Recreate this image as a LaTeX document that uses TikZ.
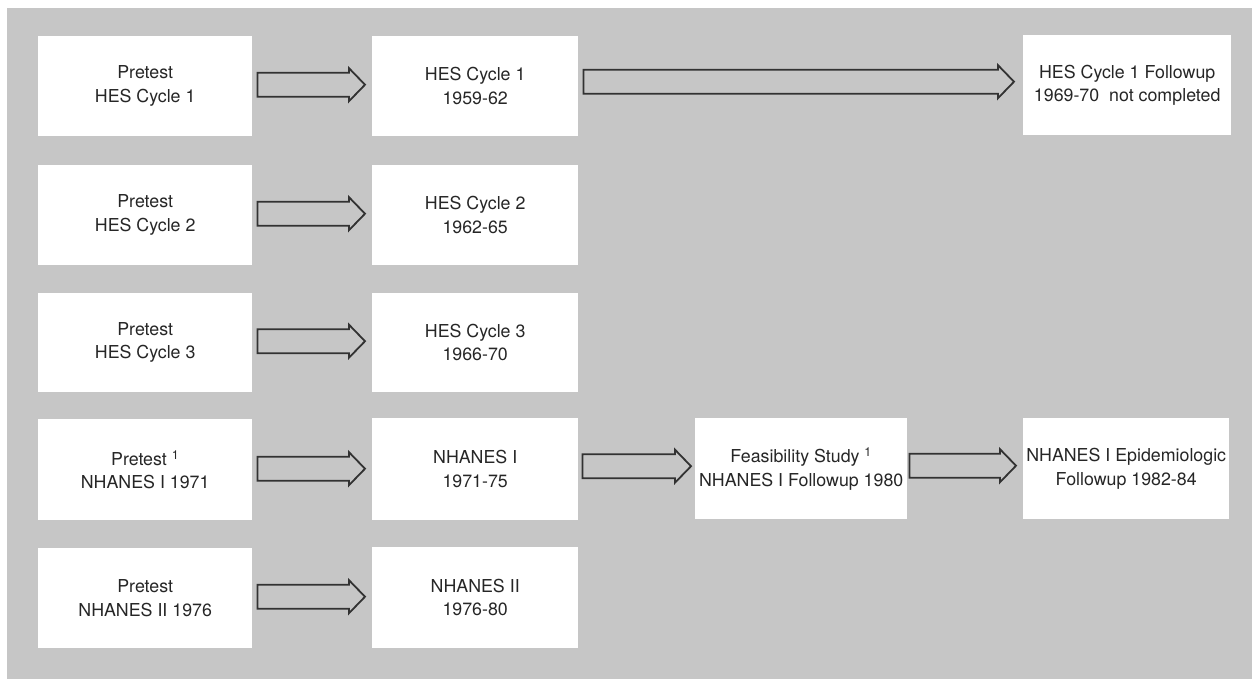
\documentclass[tikz,border=0pt]{standalone}
\usepackage{fontspec}
\setmainfont{TeX Gyre Heros}
\usetikzlibrary{calc}
\definecolor{bggray}{RGB}{198,198,198}
\definecolor{arrline}{RGB}{50,50,50}
\tikzset{
  box/.style={fill=white, anchor=north west, inner sep=0pt, align=center,
              font=\fontsize{17.8}{23.5}\selectfont, text=black!85},
  blkarr/.style={draw=arrline, fill=bggray, line width=1.8pt, line join=miter},
}
% #1 from node, #2 to node, #3 start gap, #4 end gap, #5 vertical lift
\newcommand\blkarrow[5]{%
  \draw[blkarr] let \p1=($(#1.east)+(#3,#5)$), \p2=($(#2.west)+(-#4,0)$) in
    (\x1,\y1+12pt) -- (\x2-16pt,\y1+12pt) -- (\x2-16pt,\y1+16.5pt) -- (\x2,\y1)
    -- (\x2-16pt,\y1-16.5pt) -- (\x2-16pt,\y1-12pt) -- (\x1,\y1-12pt) -- cycle;}
\begin{document}
\begin{tikzpicture}[x=1pt,y=-1pt]
\useasboundingbox (0,0) rectangle (1256,679);
\fill[white] (0,0) rectangle (1256,679);
\fill[bggray] (7,8) rectangle (1252,679);

\node[box, minimum width=214pt, minimum height=100pt] (a1) at (38,36) {Pretest\\HES Cycle 1};
\node[box, minimum width=214pt, minimum height=100pt] (a2) at (38,165) {Pretest\\HES Cycle 2};
\node[box, minimum width=214pt, minimum height=99pt] (a3) at (38,293) {Pretest\\HES Cycle 3};
\node[box, minimum width=214pt, minimum height=101pt] (a4) at (38,419) {Pretest \textsuperscript{1}\\NHANES I 1971};
\node[box, minimum width=214pt, minimum height=100pt] (a5) at (38,548) {Pretest\\NHANES II 1976};

\node[box, minimum width=206pt, minimum height=100pt] (b1) at (372,36) {HES Cycle 1\\1959-62};
\node[box, minimum width=206pt, minimum height=100pt] (b2) at (372,165) {HES Cycle 2\\1962-65};
\node[box, minimum width=206pt, minimum height=99pt] (b3) at (372,293) {HES Cycle 3\\1966-70};
\node[box, minimum width=206pt, minimum height=102pt] (b4) at (372,418) {NHANES I\\1971-75};
\node[box, minimum width=206pt, minimum height=101pt] (b5) at (372,547) {NHANES II\\1976-80};

\node[box, minimum width=212pt, minimum height=101pt] (c4) at (695,418) {Feasibility Study \textsuperscript{1}\\NHANES I Followup 1980};

\node[box, minimum width=208pt, minimum height=100pt] (d1) at (1023,35) {HES Cycle 1 Followup\\1969-70\ \ not completed};
\node[box, minimum width=206pt, minimum height=101pt] (d4) at (1023,418) {NHANES I Epidemiologic\\Followup 1982-84};

\blkarrow{a1}{b1}{5pt}{7pt}{1.5pt}
\blkarrow{a2}{b2}{5pt}{7pt}{1.5pt}
\blkarrow{a3}{b3}{5pt}{7pt}{1.5pt}
\blkarrow{a4}{b4}{5pt}{7pt}{1pt}
\blkarrow{a5}{b5}{5pt}{7pt}{1.5pt}
\blkarrow{b1}{d1}{5pt}{9pt}{4.5pt}
\blkarrow{b4}{c4}{4pt}{4pt}{3pt}
\blkarrow{c4}{d4}{2pt}{7pt}{3pt}
\end{tikzpicture}
\end{document}
